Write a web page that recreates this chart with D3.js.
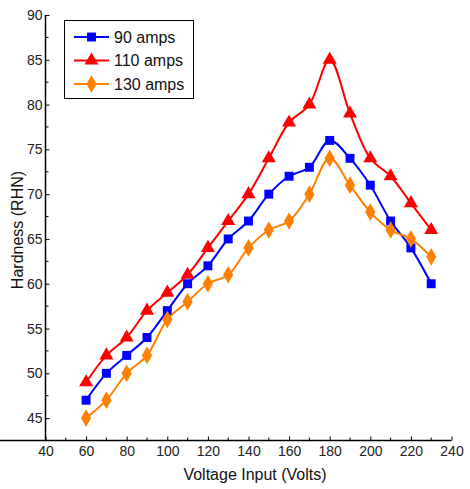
<!DOCTYPE html>
<html><head><meta charset="utf-8">
<script src="https://cdn.jsdelivr.net/npm/d3@7"></script>
<style>body{margin:0;background:#fff}svg{font-family:"Liberation Sans",Arial,sans-serif}</style>
</head><body>
<svg id="c" width="470" height="489"></svg>
<script>
const voltages = [60,70,80,90,100,110,120,130,140,150,160,170,180,190,200,210,220,230];
const amps90  = [47,50,52,54,57,60,62,65,67,70,72,73,76,74,71,67,64,60];
const amps110 = [49,52,54,57,59,61,64,67,70,74,78,80,85,79,74,72,69,66];
const amps130 = [45,47,50,52,56,58,60,61,64,66,67,70,74,71,68,66,65,63];
const seriesNames = ["90 amps","110 amps","130 amps"];
const xTicks = [40,60,80,100,120,140,160,180,200,220,240];
const yTicks = [45,50,55,60,65,70,75,80,85,90];

const svg = d3.select("#c");
const x = d3.scaleLinear().domain([40,240]).range([45.5,451.5]);
const y = d3.scaleLinear().domain([42.5,90]).range([440.5,15]);

const series = [
  {name:seriesNames[0], vals:amps90, color:"#0000ff", sym:d3.symbolSquare, size:80},
  {name:seriesNames[1], vals:amps110, color:"#ff0000", sym:d3.symbolTriangle, size:85},
  {name:seriesNames[2], vals:amps130, color:"#ff8000", sym:d3.symbolDiamond, size:90}
];

// axes
const xAxis = d3.axisBottom(x).tickValues(xTicks).tickSize(-4).tickPadding(6).tickFormat(d3.format("d"));
const gx = svg.append("g").attr("transform","translate(0,440.5)").call(xAxis);
const xMinor = d3.range(50,240,20);
gx.selectAll(".minor").data(xMinor).enter().append("line").attr("x1",d=>x(d)).attr("x2",d=>x(d)).attr("y1",0).attr("y2",-3).attr("stroke","#000");
const yAxis = d3.axisLeft(y).tickValues(yTicks).tickSize(-4).tickPadding(3);
const gy = svg.append("g").attr("transform","translate(45.5,0)").call(yAxis);
const yMinor = d3.range(47.5,90,5);
gy.selectAll(".minor").data(yMinor).enter().append("line").attr("y1",d=>y(d)).attr("y2",d=>y(d)).attr("x1",0).attr("x2",3).attr("stroke","#000");
[gx,gy].forEach(g=>{
  g.select(".domain").attr("stroke","#000").attr("stroke-width",1.5);
  g.selectAll("text").attr("font-size",14).attr("fill","#222").attr("font-family","'Liberation Sans',Arial,sans-serif");
});
gy.select(".domain").attr("d","M0,15V440.5");
gx.select(".domain").attr("d","M0,0H"+x(240));

// lines
const line = d3.line().x((d,i)=>x(voltages[i])).y(d=>y(d)).curve(d3.curveCatmullRom.alpha(0.5));
series.forEach(s=>{
  svg.append("path").attr("d",line(s.vals)).attr("fill","none").attr("stroke",s.color).attr("stroke-width",2);
  svg.selectAll(null).data(s.vals).enter().append("path")
    .attr("d",d3.symbol().type(s.sym).size(s.size))
    .attr("transform",(d,i)=>`translate(${x(voltages[i])},${y(d)})`)
    .attr("fill",s.color);
});

// legend
const lg = svg.append("g");
lg.append("rect").attr("x",64.5).attr("y",20.5).attr("width",129).attr("height",78).attr("fill","#fff").attr("stroke","#000").attr("stroke-width",1);
series.forEach((s,i)=>{
  const yy = 37 + i*23.5;
  lg.append("line").attr("x1",74).attr("x2",109).attr("y1",yy).attr("y2",yy).attr("stroke",s.color).attr("stroke-width",2);
  lg.append("path").attr("d",d3.symbol().type(s.sym).size(s.size)).attr("transform",`translate(91.5,${yy})`).attr("fill",s.color);
  lg.append("text").attr("x",114).attr("y",yy+5.5).attr("font-size",16).attr("fill","#111").text(s.name);
});

// titles
svg.append("text").attr("x",255).attr("y",480).attr("text-anchor","middle").attr("font-size",16).attr("fill","#111").text("Voltage Input (Volts)");
svg.append("text").attr("transform","translate(23,230) rotate(-90)").attr("text-anchor","middle").attr("font-size",16).attr("fill","#111").text("Hardness (RHN)");
</script>
</body></html>
